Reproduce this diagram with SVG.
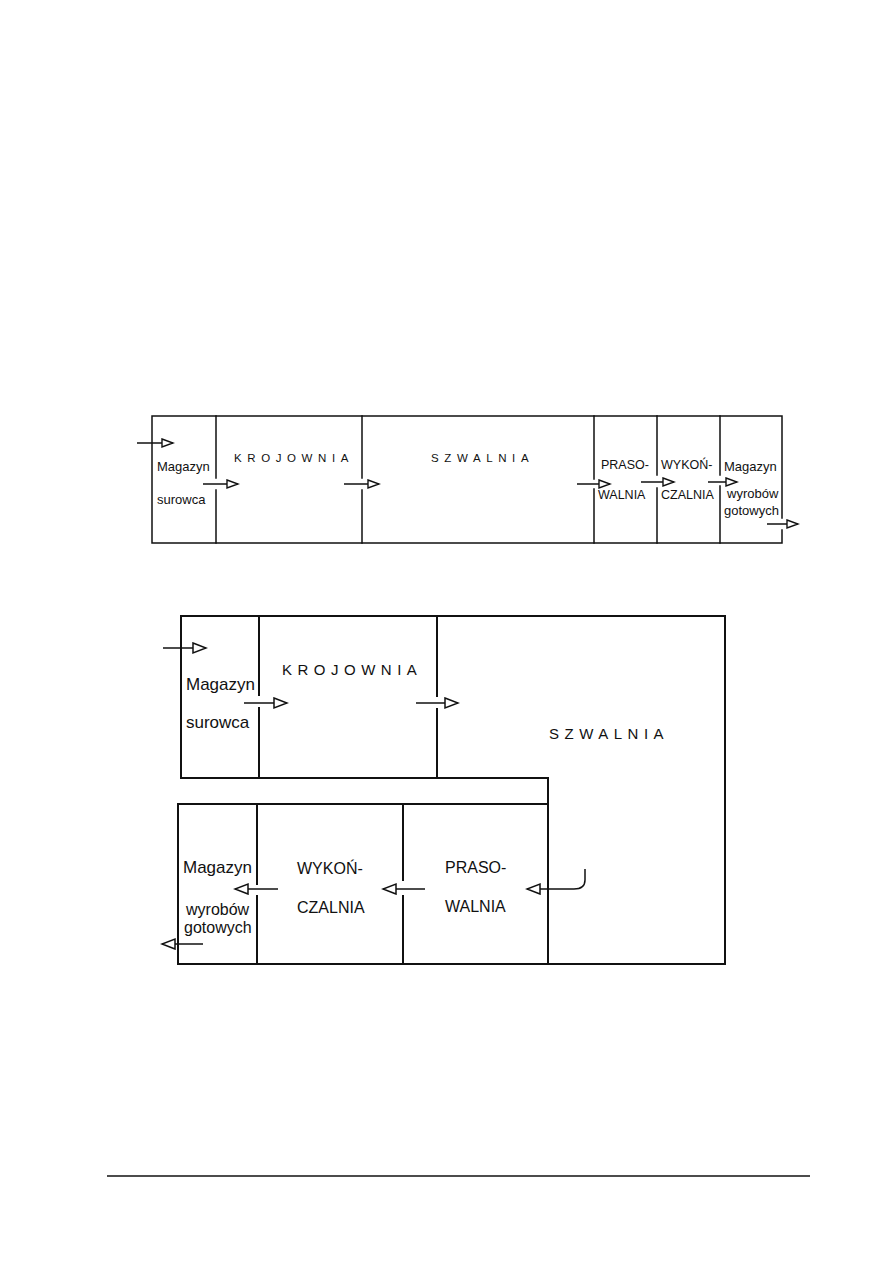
<svg xmlns="http://www.w3.org/2000/svg" width="893" height="1263" viewBox="0 0 893 1263">
<defs>
<style>
.w{stroke:#111;fill:none;stroke-linecap:square}
.t1{stroke-width:1.5}
.t2{stroke-width:2}
.a{stroke:#111;stroke-width:1.5;fill:none}
text{font-family:"Liberation Sans",Arial,sans-serif;fill:#111}
.s{font-size:12.5px}
.sl{font-size:13px}
.b{font-size:16px}
.bl{font-size:17px}
.bt{font-size:16px}
.sp1{font-size:11.5px;letter-spacing:5.6px}
.sp2{font-size:15px;letter-spacing:5.5px}
</style>
<marker id="hs" markerUnits="userSpaceOnUse" markerWidth="14" markerHeight="12" refX="12" refY="5" orient="auto">
<path d="M1,1 L12,5 L1,9 Z" fill="#fff" stroke="#111" stroke-width="1.4"/>
</marker>
<marker id="hb" markerUnits="userSpaceOnUse" markerWidth="16" markerHeight="14" refX="14" refY="6" orient="auto">
<path d="M1,1 L14,6 L1,11 Z" fill="#fff" stroke="#111" stroke-width="1.5"/>
</marker>
</defs>
<rect width="893" height="1263" fill="#fff"/>

<!-- Top layout -->
<g id="top-layout">
<path class="w t1" d="M152,416 H782 M152,543 H782 M152,416 V543 M782,416 V518 M782,530 V543"/>
<path class="w t1" d="M216,416 V478 M216,490 V543 M362,416 V478 M362,490 V543 M594,416 V479 M594,489 V543 M657,416 V475 M657,488 V543 M720,416 V475 M720,486 V543"/>
</g>
<g id="t-magazyn-surowca"><text class="sl" x="157" y="471">Magazyn</text><text class="sl" x="157" y="504">surowca</text></g>
<g id="t-krojownia"><text class="sp1" x="234" y="462">KROJOWNIA</text></g>
<g id="t-szwalnia"><text class="sp1" x="431" y="462">SZWALNIA</text></g>
<g id="t-prasowalnia"><text class="s" x="601" y="469">PRASO-</text><text class="s" x="598" y="499">WALNIA</text></g>
<g id="t-wykonczalnia"><text class="s" x="661" y="469">WYKOŃ-</text><text class="s" x="661" y="499">CZALNIA</text></g>
<g id="t-magazyn-wyrobow"><text class="sl" x="724" y="471">Magazyn</text><text class="sl" x="727" y="498">wyrobów</text><text class="sl" x="724" y="515">gotowych</text></g>

<!-- Bottom layout -->
<g id="bottom-layout">
<path class="w t2" d="M181,616 H725 V964 H548 M181,616 V778 H548 V964"/>
<path class="w t2" d="M178,804 H548 M178,964 H548 M178,804 V964"/>
<path class="w t2" d="M259,616 V695 M259,708 V778 M437,616 V696 M437,709 V778 M257,804 V884 M257,896 V964 M403,804 V880 M403,896 V964"/>
</g>
<g id="b-magazyn-surowca"><text class="bl" x="186" y="690">Magazyn</text><text class="bl" x="186" y="728">surowca</text></g>
<g id="b-krojownia"><text class="sp2" x="282" y="675">KROJOWNIA</text></g>
<g id="b-szwalnia"><text class="sp2" x="549" y="739">SZWALNIA</text></g>
<g id="b-prasowalnia"><text class="b" x="445" y="873">PRASO-</text><text class="b" x="445" y="912">WALNIA</text></g>
<g id="b-wykonczalnia"><text class="b" x="297" y="874">WYKOŃ-</text><text class="b" x="297" y="913">CZALNIA</text></g>
<g id="b-magazyn-wyrobow"><text class="bl" x="183" y="873">Magazyn</text><text class="bt" x="186" y="915">wyrobów</text><text class="bt" x="184" y="933">gotowych</text></g>

<g id="connectors">
<line class="a" x1="137" y1="443" x2="173" y2="443" marker-end="url(#hs)"/>
<line class="a" x1="203" y1="484" x2="238" y2="484" marker-end="url(#hs)"/>
<line class="a" x1="344" y1="484" x2="379" y2="484" marker-end="url(#hs)"/>
<line class="a" x1="577" y1="484" x2="610" y2="484" marker-end="url(#hs)"/>
<line class="a" x1="641" y1="482" x2="674" y2="482" marker-end="url(#hs)"/>
<line class="a" x1="708" y1="482" x2="737" y2="482" marker-end="url(#hs)"/>
<line class="a" x1="767" y1="524" x2="798" y2="524" marker-end="url(#hs)"/>

<line class="a" x1="163" y1="648" x2="206" y2="648" marker-end="url(#hb)"/>
<line class="a" x1="244" y1="703" x2="287" y2="703" marker-end="url(#hb)"/>
<line class="a" x1="416" y1="703" x2="458" y2="703" marker-end="url(#hb)"/>
<path class="a" d="M585,869 V880 Q585,889 574,889 H527" marker-end="url(#hb)"/>
<line class="a" x1="425" y1="889" x2="383" y2="889" marker-end="url(#hb)"/>
<line class="a" x1="278" y1="889" x2="235" y2="889" marker-end="url(#hb)"/>
<line class="a" x1="203" y1="944" x2="162" y2="944" marker-end="url(#hb)"/>
</g>

<line id="footer-rule" x1="107" y1="1176" x2="810" y2="1176" stroke="#111" stroke-width="1.5"/>
</svg>
